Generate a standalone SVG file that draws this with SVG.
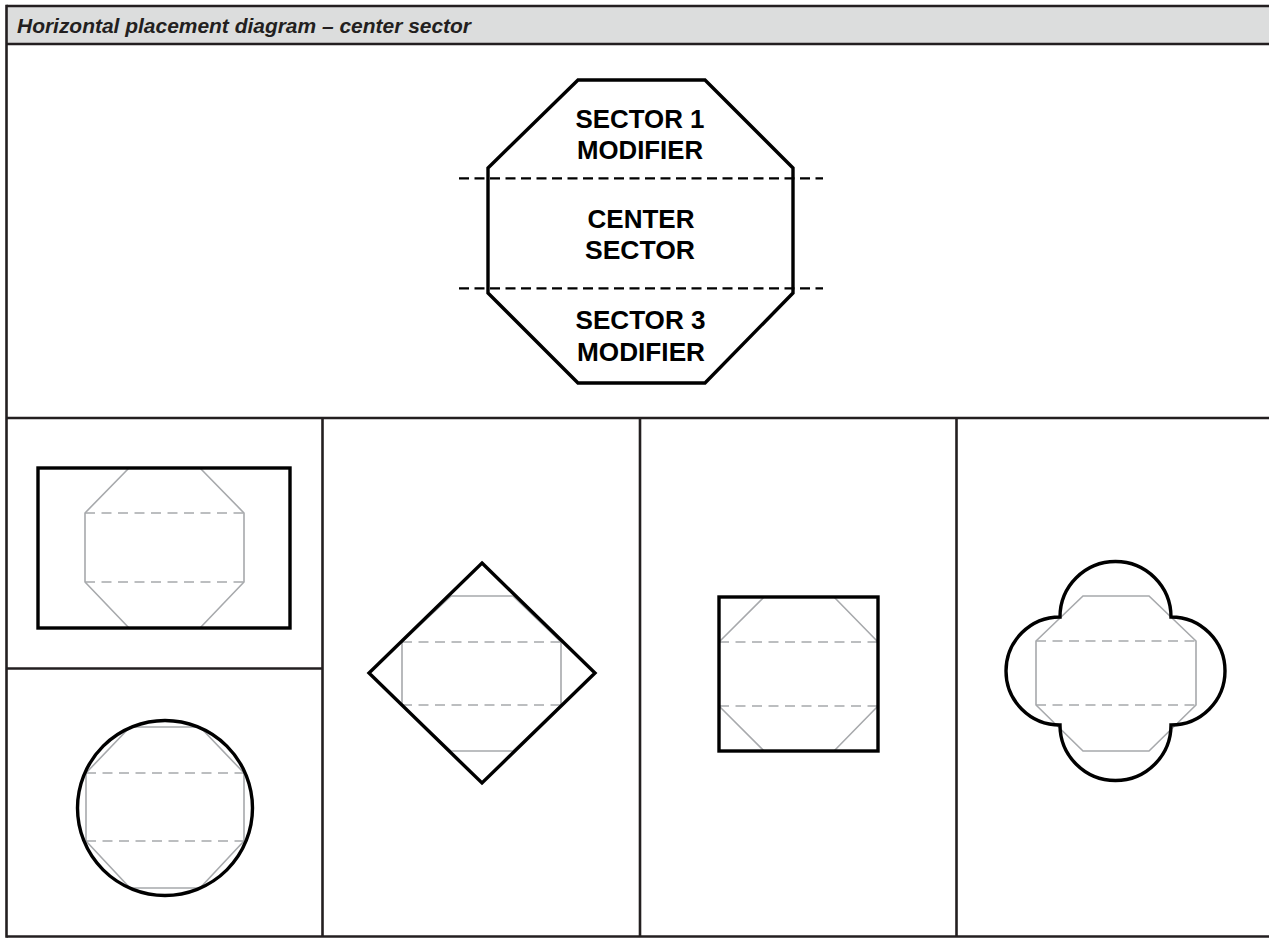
<svg xmlns="http://www.w3.org/2000/svg" width="1269" height="938" viewBox="0 0 1269 938">
<style>
.frame{fill:none;stroke:#231f20;stroke-width:2.6}
.shape{fill:none;stroke:#000;stroke-width:3.4;stroke-linejoin:miter}
.gray{fill:none;stroke:#a7a9ac;stroke-width:1.6}
.gdash{fill:none;stroke:#a7a9ac;stroke-width:1.6;stroke-dasharray:10 6.5}
.bdash{fill:none;stroke:#000;stroke-width:2.2;stroke-dasharray:10 5.5}
.lbl{font-family:"Liberation Sans",Arial,sans-serif;font-weight:bold;font-size:25px;fill:#000;text-anchor:middle}
.title{font-family:"Liberation Sans",Arial,sans-serif;font-weight:bold;font-style:italic;font-size:20px;fill:#231f20}
</style>
<rect x="0" y="0" width="1269" height="938" fill="#fff"/>
<g id="frame">
<rect x="6.5" y="6" width="1275" height="38" fill="#dcdddd" stroke="none"/>
<line class="frame" x1="6.5" y1="6" x2="1275" y2="6"/>
<line class="frame" x1="6.5" y1="44" x2="1275" y2="44"/>
<line class="frame" x1="6.5" y1="418" x2="1275" y2="418"/>
<line class="frame" x1="6.5" y1="936.5" x2="1275" y2="936.5"/>
<line class="frame" x1="6.5" y1="4.7" x2="6.5" y2="937.8"/>
<line class="frame" x1="322.5" y1="418" x2="322.5" y2="937"/>
<line class="frame" x1="640" y1="418" x2="640" y2="937"/>
<line class="frame" x1="956.5" y1="418" x2="956.5" y2="937"/>
<line class="frame" x1="6.5" y1="668.5" x2="322.5" y2="668.5"/>
<text class="title" x="17" y="33" textLength="454" lengthAdjust="spacingAndGlyphs">Horizontal placement diagram – center sector</text>
</g>
<g id="main-octagon">
<polygon class="shape" points="578,80 705,80 793,168 793,293 705,383 578,383 488,293 488,168"/>
<line class="bdash" x1="459" y1="178.3" x2="823" y2="178.3"/>
<line class="bdash" x1="459" y1="288.3" x2="823" y2="288.3"/>
<text class="lbl" x="640" y="128.3" textLength="129" lengthAdjust="spacingAndGlyphs">SECTOR 1</text>
<text class="lbl" x="640" y="159.3" textLength="126" lengthAdjust="spacingAndGlyphs">MODIFIER</text>
<text class="lbl" x="641" y="228.3" textLength="107" lengthAdjust="spacingAndGlyphs">CENTER</text>
<text class="lbl" x="640" y="259.3" textLength="110" lengthAdjust="spacingAndGlyphs">SECTOR</text>
<text class="lbl" x="640.5" y="329.3" textLength="130" lengthAdjust="spacingAndGlyphs">SECTOR 3</text>
<text class="lbl" x="641" y="361" textLength="128" lengthAdjust="spacingAndGlyphs">MODIFIER</text>
</g>
<g id="rectangle-frame">
<polygon class="gray" points="129,468 200,468 244,513 244,582 200,628 129,628 85,582 85,513"/>
<line class="gdash" x1="85" y1="513" x2="244" y2="513"/>
<line class="gdash" x1="85" y1="582" x2="244" y2="582"/>
<rect class="shape" x="38" y="468" width="252" height="160"/>
</g>
<g id="circle-frame">
<polygon class="gray" points="130,727 200,727 244,773 244,841 200,888 130,888 86,841 86,773"/>
<line class="gdash" x1="86" y1="773" x2="244" y2="773"/>
<line class="gdash" x1="86" y1="841" x2="244" y2="841"/>
<circle class="shape" cx="165" cy="808" r="87.5"/>
</g>
<g id="diamond-frame">
<polygon class="gray" points="451,596 513,596 561,642 561,705 513,751 451,751 402,705 402,642"/>
<line class="gdash" x1="402" y1="642" x2="561" y2="642"/>
<line class="gdash" x1="402" y1="705" x2="561" y2="705"/>
<polygon class="shape" points="482,563 595,673 482,783 369,673"/>
</g>
<g id="square-frame">
<polygon class="gray" points="764,597 834,597 878,642 878,706 834,751 764,751 719,706 719,642"/>
<line class="gdash" x1="719" y1="642" x2="878" y2="642"/>
<line class="gdash" x1="719" y1="706" x2="878" y2="706"/>
<rect class="shape" x="719" y="597" width="159" height="154"/>
</g>
<g id="quatrefoil-frame">
<polygon class="gray" points="1083,596 1149,596 1196,641 1196,705 1149,751 1083,751 1036,705 1036,641"/>
<line class="gdash" x1="1036" y1="641" x2="1196" y2="641"/>
<line class="gdash" x1="1036" y1="705" x2="1196" y2="705"/>
<path class="shape" d="M1060,617 A55.5,55.5 0 0 1 1171,617 A54,54 0 0 1 1171,725 A55.5,55.5 0 0 1 1060,725 A54,54 0 0 1 1060,617 Z"/>
</g>
<g id="connectors"></g>
</svg>
